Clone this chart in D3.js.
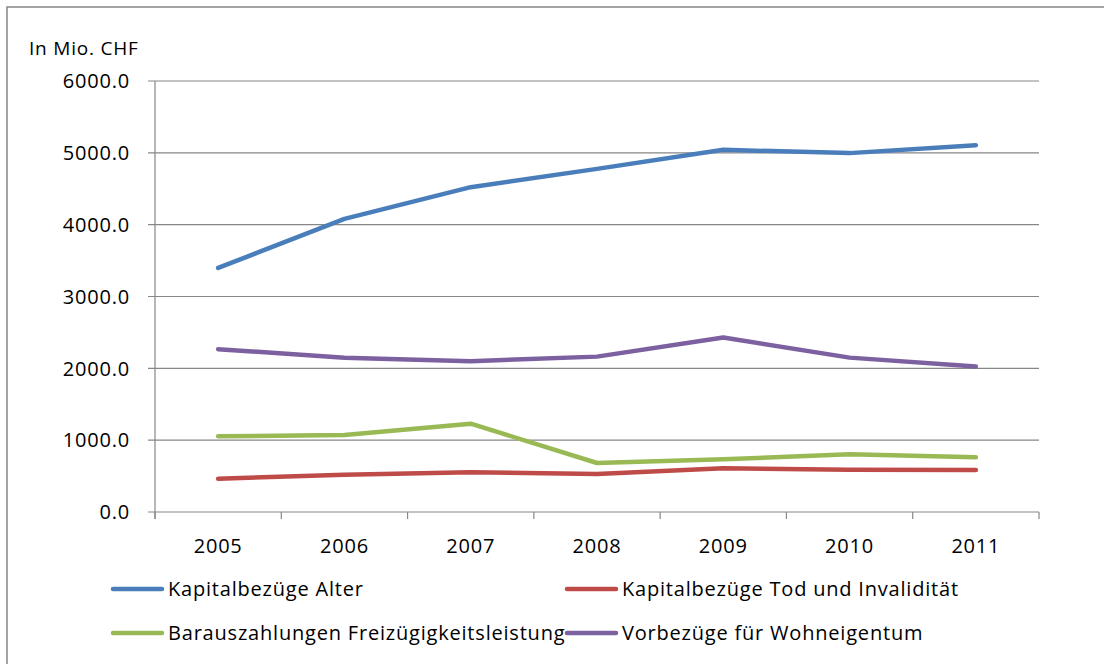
<!DOCTYPE html>
<html>
<head>
<meta charset="utf-8">
<script src="https://cdn.jsdelivr.net/npm/d3@7"></script>
<style>
  body { margin: 0; background: #fff; }
  text { font-family: "Open Sans", Lato, sans-serif; fill: #000; letter-spacing: 0.8px; }
</style>
</head>
<body>
<svg id="chart" width="1104" height="664"></svg>
<script>
// Jahre
var years = ["2005", "2006", "2007", "2008", "2009", "2010", "2011"];
// Werte in Mio. CHF
var kapitalAlter = [3398, 4080, 4522, 4777, 5042, 4996, 5107];
var kapitalTod = [464, 520, 553, 529, 609, 589, 585];
var barauszahlungen = [1054, 1072, 1230, 682, 734, 804, 762];
var vorbezuege = [2266, 2149, 2099, 2163, 2428, 2149, 2024];
var yTicks = [0, 1000, 2000, 3000, 4000, 5000, 6000];

var series = [
  { name: "Kapitalbezüge Alter", values: kapitalAlter, color: "#4a7ebb" },
  { name: "Kapitalbezüge Tod und Invalidität", values: kapitalTod, color: "#be4b48" },
  { name: "Barauszahlungen Freizügigkeitsleistung", values: barauszahlungen, color: "#98b954" },
  { name: "Vorbezüge für Wohneigentum", values: vorbezuege, color: "#7d60a0" }
];

var svg = d3.select("#chart");

// Rahmen
svg.append("rect")
  .attr("x", 7).attr("y", 7)
  .attr("width", 1300).attr("height", 800)
  .attr("fill", "none").attr("stroke", "#878787").attr("stroke-width", 1.5);

// Plotbereich (nicht "top" nennen -> window.top)
var plotL = 155, plotR = 1039, plotT = 81, plotB = 512;

var x = d3.scaleBand().domain(years).range([plotL, plotR]);
var y = d3.scaleLinear().domain([0, 6000]).range([plotB, plotT]);

// Gitternetz
svg.append("g").selectAll("line")
  .data(yTicks)
  .join("line")
  .attr("x1", plotL - 7).attr("x2", plotR)
  .attr("y1", d => y(d)).attr("y2", d => y(d))
  .attr("stroke", "#878787").attr("stroke-width", 1.2);

// y-Achse
svg.append("line")
  .attr("x1", plotL).attr("x2", plotL)
  .attr("y1", plotT).attr("y2", plotB + 7)
  .attr("stroke", "#878787").attr("stroke-width", 1.2);

svg.append("g").selectAll("text")
  .data(yTicks)
  .join("text")
  .attr("x", 130)
  .attr("y", d => y(d))
  .attr("dy", "0.36em")
  .attr("text-anchor", "end")
  .attr("font-size", 20)
  .text(d => d3.format(".1f")(d));

// x-Achse Ticks
var xTickPos = years.map(d => x(d)).concat([plotR]);
svg.append("g").selectAll("line")
  .data(xTickPos)
  .join("line")
  .attr("x1", d => d).attr("x2", d => d)
  .attr("y1", plotB).attr("y2", plotB + 7)
  .attr("stroke", "#878787").attr("stroke-width", 1.2);

svg.append("g").selectAll("text")
  .data(years)
  .join("text")
  .attr("x", d => x(d) + x.bandwidth() / 2)
  .attr("y", 553)
  .attr("text-anchor", "middle")
  .attr("font-size", 20)
  .text(d => d);

svg.append("text")
  .attr("x", 29).attr("y", 55)
  .attr("font-size", 19)
  .text("In Mio. CHF");

// Linien
var line = d3.line()
  .x((d, i) => x(years[i]) + x.bandwidth() / 2)
  .y(d => y(d));

svg.append("g").selectAll("path")
  .data(series)
  .join("path")
  .attr("d", d => line(d.values))
  .attr("fill", "none")
  .attr("stroke", d => d.color)
  .attr("stroke-width", 4.5)
  .attr("stroke-linecap", "round")
  .attr("stroke-linejoin", "round");

// Legende
var legendPos = [[113, 589], [567, 589], [113, 633], [567, 633]];
var lg = svg.append("g").selectAll("g")
  .data(series)
  .join("g")
  .attr("transform", (d, i) => "translate(" + legendPos[i][0] + "," + legendPos[i][1] + ")");

lg.append("line")
  .attr("x1", 0).attr("x2", 49)
  .attr("stroke", d => d.color)
  .attr("stroke-width", 4.5)
  .attr("stroke-linecap", "round");

lg.append("text")
  .attr("x", 55)
  .attr("dy", "0.36em")
  .attr("font-size", 20)
  .text(d => d.name);
</script>
</body>
</html>
